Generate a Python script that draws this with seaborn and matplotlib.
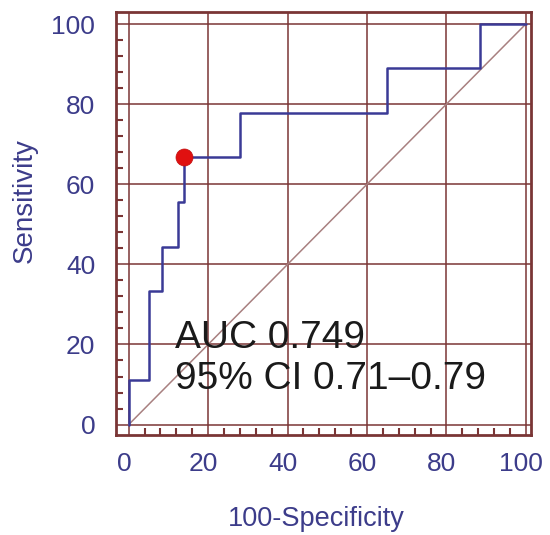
import matplotlib
matplotlib.use("Agg")
import matplotlib.pyplot as plt
import seaborn as sns
import pandas as pd
from matplotlib.ticker import MultipleLocator
from matplotlib.transforms import ScaledTranslation

# ROC step curve (100-Specificity, Sensitivity)
fpr = [0, 0, 5, 5, 8.5, 8.5, 12.5, 12.5, 14, 14, 28, 28, 65, 65, 88.5, 88.5, 100]
tpr = [0, 11.1, 11.1, 33.3, 33.3, 44.4, 44.4, 55.6, 55.6, 66.7, 66.7, 77.8, 77.8, 88.9, 88.9, 100, 100]
diag = [0, 100]
opt_x = [14]
opt_y = [66.7]
ticks = [0, 20, 40, 60, 80, 100]
auc_text = "AUC 0.749"
ci_text = "95% CI 0.71\u20130.79"

sns.set_theme(style="white")
plt.rcParams['font.family'] = ['Liberation Sans', 'DejaVu Sans']

fig = plt.figure(figsize=(5.5, 5.35), dpi=100)
ax = fig.add_axes([116/550, 1 - 435/535, (531 - 116)/550, (435 - 12)/535])

grid_c = '#7a3535'
blue = '#3a3a96'
lab_c = '#3c3c8a'

df = pd.DataFrame({'x': fpr, 'y': tpr})
ax.set_xlim(-3.2, 101.3)
ax.set_ylim(-2.6, 103)

for t in ticks:
    ax.axvline(t, color=grid_c, lw=1.1, zorder=1)
    ax.axhline(t, color=grid_c, lw=1.1, zorder=1)

sns.lineplot(x=diag, y=diag, ax=ax, color='#a88080', lw=1.1, zorder=2)
sns.lineplot(data=df, x='x', y='y', ax=ax, sort=False, estimator=None,
             color=blue, lw=1.8, zorder=3)
sns.scatterplot(x=opt_x, y=opt_y, ax=ax, color='#e01010', s=150,
                edgecolor='#c01010', linewidth=0.5, zorder=4)

ax.set_xticks(ticks)
ax.set_yticks(ticks)
ax.xaxis.set_minor_locator(MultipleLocator(4))
ax.yaxis.set_minor_locator(MultipleLocator(4))
ax.tick_params(axis='both', which='major', length=0, labelcolor=lab_c,
               labelsize=19)
ax.tick_params(axis='x', which='major', pad=12)
ax.tick_params(axis='y', which='major', pad=15)
ax.tick_params(axis='both', which='minor', direction='in', length=5,
               width=1.5, color=grid_c, left=True, bottom=True)

shift = ScaledTranslation(-4.5 / 100, 0, fig.dpi_scale_trans)
for lab in ax.get_xticklabels():
    lab.set_transform(lab.get_transform() + shift)

for s in ax.spines.values():
    s.set_color(grid_c)
    s.set_linewidth(2)

ax.set_xlabel('100-Specificity', fontsize=19.5, color=lab_c)
ax.set_ylabel('Sensitivity', fontsize=20, color=lab_c)
ax.xaxis.set_label_coords((316 - 116) / 415, (435 - 506) / 423)
ax.yaxis.set_label_coords((38 - 116) / 415, (435 - 201) / 423)

ax.text(11.6, 19.0, auc_text, fontsize=28, color='#1a1a1a', zorder=5,
        ha='left', va='baseline')
ax.text(11.6, 8.8, ci_text, fontsize=28, color='#1a1a1a', zorder=5,
        ha='left', va='baseline')

fig.savefig('out.png', dpi=100)
